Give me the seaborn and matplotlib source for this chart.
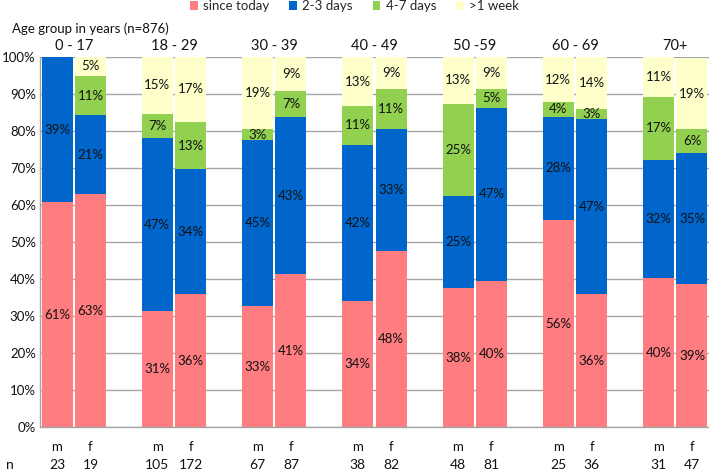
import matplotlib
matplotlib.use("Agg")
import matplotlib.pyplot as plt
from matplotlib.patches import Patch
import seaborn as sns
import pandas as pd
import numpy as np

groups = ["0 - 17", "18 - 29", "30 - 39", "40 - 49", "50 -59", "60 - 69", "70+"]
sexes = ["m", "f"]
n_counts = [23, 19, 105, 172, 67, 87, 38, 82, 48, 81, 25, 36, 31, 47]
categories = ["since today", "2-3 days", "4-7 days", ">1 week"]
# bars in order: 0-17 m, 0-17 f, 18-29 m, ...
since_today = [60.8, 63.1, 31.4, 36.0, 32.8, 41.3, 34.1, 47.6, 37.6, 39.5, 55.9, 36.0, 40.4, 38.7]
days_2_3 = [39.2, 21.2, 46.7, 33.7, 44.8, 42.6, 42.2, 33.0, 24.9, 46.9, 28.1, 47.3, 31.9, 35.4]
days_4_7 = [0.0, 10.7, 6.7, 12.9, 3.0, 6.9, 10.6, 10.9, 25.0, 5.0, 4.0, 2.8, 17.1, 6.4]
over_week = [0.0, 5.1, 15.2, 17.4, 19.4, 9.2, 13.1, 8.6, 12.6, 8.6, 12.0, 13.9, 10.6, 19.4]
colors = ["#FF7C80", "#0066CC", "#92D050", "#FFFFCC"]

sns.set_theme(style="white")
plt.rcParams["font.family"] = ["Lato", "DejaVu Sans"]

pos = []
for k in range(len(groups)):
    pos += [3 * k, 3 * k + 1]
pos = np.array(pos, dtype=float)

series = [since_today, days_2_3, days_4_7, over_week]
cum = np.cumsum(np.array(series), axis=0)

fig = plt.figure(figsize=(7.09, 4.74), dpi=100)
ax = fig.add_axes([40 / 709, 0.0985, 669 / 709, 0.7806])

for i in range(3, -1, -1):
    df = pd.DataFrame({"x": pos, "y": cum[i]})
    sns.barplot(data=df, x="x", y="y", native_scale=True, color=colors[i],
                width=0.93, errorbar=None, ax=ax, saturation=1, edgecolor="none",
                linewidth=0, zorder=2)

# value labels
for i in range(4):
    vals = np.array(series[i])
    bottoms = cum[i] - vals
    for x, v, b in zip(pos, vals, bottoms):
        if v >= 1:
            ax.text(x, b + v / 2, f"{v:.0f}%", ha="center", va="center",
                    fontsize=9.5, color="#111111", zorder=5)

ax.set_xlim(-0.51, 19.51)
ax.set_ylim(0, 100)
ax.set_yticks(np.arange(0, 101, 10))
ax.set_yticklabels([f"{t}%" for t in range(0, 101, 10)], fontsize=9.5, color="#111111")
ax.yaxis.grid(True, color="#A6A6A6", linewidth=1, zorder=0)
ax.set_axisbelow(True)
ax.set_xticks(pos)
ax.set_xticklabels(sexes * len(groups), fontsize=9.5, color="#111111")
ax.tick_params(axis="x", length=0, pad=10)
ax.tick_params(axis="y", length=0, pad=3)
ax.set_xlabel("")
ax.set_ylabel("")
for s in ["top", "right"]:
    ax.spines[s].set_visible(False)
for s in ["left", "bottom"]:
    ax.spines[s].set_color("#A6A6A6")
    ax.spines[s].set_linewidth(1)

trans = ax.get_xaxis_transform()
for x, nv in zip(pos, n_counts):
    ax.text(x, -0.102, str(nv), transform=trans, ha="center", va="center",
            fontsize=10, color="#111111")
fig.text(10 / 709, 1 - 465 / 474, "n", ha="center", va="center", fontsize=10, color="#111111")

for k, g in enumerate(groups):
    ax.text(3 * k + 0.5, 1.03, g, transform=trans, ha="center", va="center",
            fontsize=10.5, color="#111111")

fig.text(12 / 709, 1 - 29 / 474, "Age group in years (n=876)", ha="left", va="center",
         fontsize=9.5, color="#111111")

handles = [Patch(facecolor=c, edgecolor="none", label=l) for c, l in zip(colors, categories)]
fig.legend(handles=handles, loc="upper center", bbox_to_anchor=(0.5, 1.025), ncol=4,
           frameon=False, fontsize=9.5, handlelength=0.6, handleheight=0.6,
           handletextpad=0.4, columnspacing=1.5)

fig.savefig("out.png", dpi=100)
